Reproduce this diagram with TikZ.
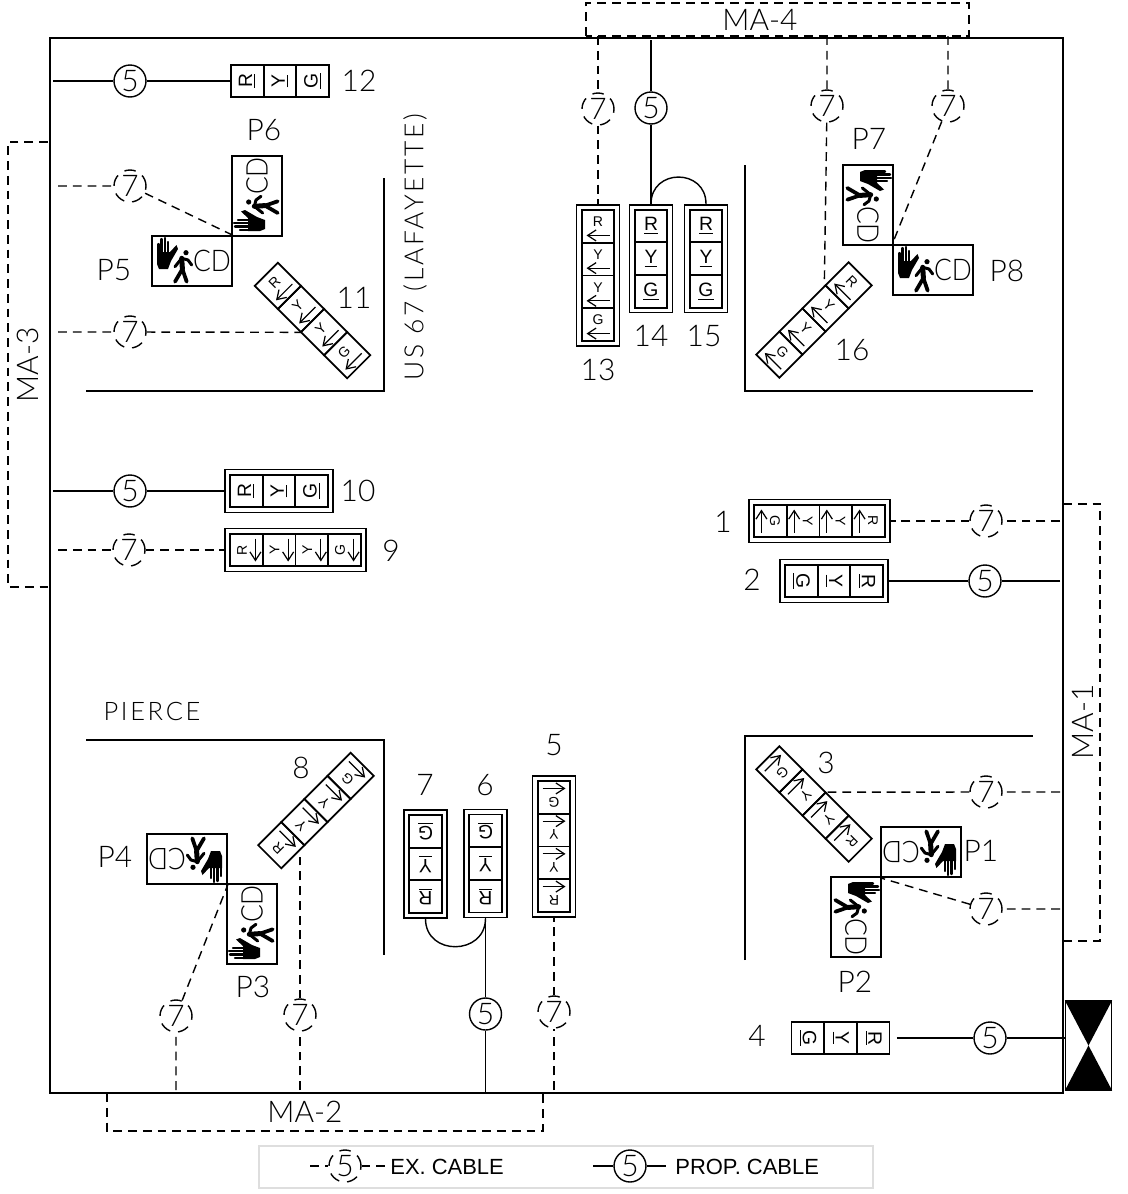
\documentclass[tikz,border=0pt]{standalone}
\usepackage{fontspec}
\setmainfont{Lato}[UprightFont = {* Light}]
\newfontfamily\roadfont[LetterSpace=10.5]{Lato}[UprightFont = {* Light}]
\newfontfamily\legendfont{Liberation Sans}
\usetikzlibrary{arrows.meta}
\tikzset{
exline/.style = {dash pattern = on 5pt off 3.4pt, line width = 0.8pt},
exring/.style = {dash pattern = on 6.5pt off 4.5pt, line width = 0.8pt},
propline/.style = {line width = 0.8pt},
excable/.style = {circle, draw, exring, minimum size = 0.64cm, inner sep = 0, font = \fontsize{17}{18}\selectfont},
propcable/.style = {circle, draw, propline, minimum size = 0.64cm, inner sep = 0, font = \fontsize{17}{18}\selectfont},
signlabel/.style = {inner sep = 0, font = \fontsize{17}{18}\selectfont},
headframe/.style = {draw, line width = 0.9pt, inner sep = 0, minimum width = 0.86cm, minimum height = #1},
headbare/.style = {inner sep = 0, minimum width = 0.655cm, minimum height = #1},
headcell/.style = {draw, line width = 1pt, inner sep = 0, minimum size = 0.654cm},
ballletter/.style = {inner sep = 0, font = \fontsize{11}{12}\selectfont\legendfont},
arrowletter/.style = {inner sep = 0, font = \fontsize{8}{9}\selectfont\legendfont},
sigarrow/.style = {line width = 0.7pt, -{Straight Barb[length = 0.17cm, width = 0.22cm]}},
pedbox/.style = {draw, line width = 0.9pt, inner sep = 0, minimum width = 1.6cm, minimum height = 1cm}
}
\newcommand{\ballsig}[4]{
\node [#4, rotate = #3] (#1) at (#2) {};
\begin{scope}[shift = {(#2)}, rotate = #3, every node/.append style = {transform shape}]
\foreach \t [count = \i] in {R,Y,G} {
\node [headcell] (#1-\i) at (0, {(2-\i)*32.7}) {};
\node [ballletter] (#1-\i-t) at (0, {(2-\i)*32.7}) {\underline{\t}};
}
\end{scope}
}
\newcommand{\arrowsig}[4]{
\node [#4, rotate = #3] (#1) at (#2) {};
\begin{scope}[shift = {(#2)}, rotate = #3, every node/.append style = {transform shape}]
\foreach \t [count = \i] in {R,Y,Y,G} {
\node [headcell] (#1-\i) at (0, {(2.5-\i)*32.7}) {};
\node [arrowletter] (#1-\i-t) at (0, {(2.5-\i)*32.7+4.5}) {\t};
\draw [sigarrow] (11.5, {(2.5-\i)*32.7-9}) -- (-11.5, {(2.5-\i)*32.7-9});
}
\end{scope}
}
\newcommand{\pedsig}[3]{
\node [pedbox, rotate = #3] (#1) at (#2) {};
\begin{scope}[shift = {(#2)}, rotate = #3, every node/.append style = {transform shape}]
\fill (-35,9) -- (-35,-3) -- (-33,-8) -- (-24,-8) -- (-21,0) -- (-14,12) -- (-15.5,16) -- (-22,9) -- (-22.5,9) -- cycle;
\foreach \x/\y in {-33.7/17,-30.4/22,-27.1/23,-23.8/19}
\draw [line width = 0.048cm, line cap = round] (\x,8) -- (\x,\y);
\fill (-6,8.3) circle (2.6);
\draw [line width = 0.06cm, line cap = round, line join = round] (-17,-5.7) -- (-10.3,2.7) -- (-4,1) -- (-0.3,-4);
\draw [line width = 0.1cm, line cap = round, line join = round] (-9.6,-8) -- (-10.3,2.7);
\draw [line width = 0.075cm, line cap = round, line join = round] (-17,-20.7) -- (-9.6,-8) -- (-5.3,-20.7);
\node [inner sep = 0, xscale = 0.88, font = \fontsize{17}{18}\selectfont] (#1-cd) at (20,0) {CD};
\end{scope}
}
\begin{document}
\begin{tikzpicture}[x = 0.02cm, y = 0.02cm]
\useasboundingbox (0,0) rectangle (1128,-1194);
\draw [line width = 1.1pt] (50,-38) rectangle (1063,-1093);
\draw [line width = 0.9pt] (384,-178) -- (384,-391) -- (86,-391);
\draw [line width = 0.9pt] (745,-165) -- (745,-391) -- (1033,-391);
\draw [line width = 0.9pt] (86,-740) -- (384,-740) -- (384,-955);
\draw [line width = 0.9pt] (745,-960) -- (745,-736) -- (1033,-736);
\draw [exline] (586,-36) -- (586,-3) -- (969,-3) -- (969,-36) -- cycle;
\draw [exline] (1063,-504) -- (1100,-504) -- (1100,-941) -- (1063,-941);
\draw [exline] (48,-142) -- (8,-142) -- (8,-587) -- (48,-587);
\draw [exline] (107,-1093) -- (107,-1131) -- (543,-1131) -- (543,-1093);
\ballsig{h2}{834,-581}{-90}{headframe = 2.16cm}
\ballsig{h4}{840.5,-1038}{-90}{headbare = 1.96cm}
\ballsig{h6}{485.5,-863.5}{180}{headframe = 2.16cm}
\ballsig{h7}{425.5,-864}{180}{headframe = 2.16cm}
\ballsig{h10}{279,-491}{90}{headframe = 2.16cm}
\ballsig{h12}{280,-81}{90}{headbare = 1.96cm}
\ballsig{h14}{651,-258.7}{0}{headframe = 2.16cm}
\ballsig{h15}{706,-258.7}{0}{headframe = 2.16cm}
\arrowsig{h1}{819.5,-521}{-90}{headframe = 2.82cm}
\arrowsig{h3}{814,-804}{-135}{headbare = 2.62cm}
\arrowsig{h5}{554,-846.5}{180}{headframe = 2.82cm}
\arrowsig{h8}{316,-810.5}{135}{headbare = 2.62cm}
\arrowsig{h9}{295.5,-550}{90}{headframe = 2.82cm}
\arrowsig{h11}{312.5,-320.5}{45}{headbare = 2.62cm}
\arrowsig{h13}{598,-275.5}{0}{headframe = 2.82cm}
\arrowsig{h16}{814,-320}{-45}{headbare = 2.62cm}
\pedsig{p1}{921,-852}{180}
\pedsig{p2}{856,-917}{-90}
\pedsig{p3}{252,-924}{90}
\pedsig{p4}{187,-859}{180}
\pedsig{p5}{192,-261}{0}
\pedsig{p6}{257,-196}{90}
\pedsig{p7}{868,-205}{-90}
\pedsig{p8}{933,-270}{0}
\node [draw, line width = 0.8pt, minimum width = 0.92cm, minimum height = 1.78cm] (cab) at (1088.5,-1045.5) {};
\fill (cab.north west) -- (cab.north east) -- (cab.south west) -- (cab.south east) -- cycle;
\foreach \name/\x/\y in {e1/986/521,e3/986/792,ep1/986/909,e5/554/1012,e8/300/1015,ep4/176/1016,e9/129/550,ep5/130/186,e11/130/332,e13/598/109,e16/827/106,ep8/948/106}
\node [excable] (\name) at (\x,-\y) {7};
\foreach \name/\x/\y in {c2/985/581,c4/990/1038,c6/485.5/1014,c10/130/491,c12/130/81,c14/651/108}
\node [propcable] (\name) at (\x,-\y) {5};
\foreach \name/\x/\y in {f1/1060/521,f3/1060/792,fp1/1060/909,f5/554/1090,f8/300/1090,fp4/176/1090,f9/58/550,fp5/58/186,f11/58/332,f13/598/36,f16/827/36,fp8/948/36,t8/300/851}
\coordinate (\name) at (\x,-\y);
\foreach \name/\x/\y in {g2/1060/581,g6/485.5/1093,g10/53/491,g12/53/81,g14/651/40}
\coordinate (\name) at (\x,-\y);
\foreach \a/\b/\c in {f1/e1/h1.north,f3/e3/h3.west,fp1/ep1/p1.north east,f5/e5/h5.north,f8/e8/t8,fp4/ep4/p4.north west,f9/e9/h9.north,fp5/ep5/p5.north east,f11/e11/h11.west,f13/e13/h13.north,f16/e16/h16-1.south west,fp8/ep8/p8.north west}
\draw [exline] (\a) -- (\b) -- (\c);
\foreach \a/\b/\c in {g2/c2/h2.north,g6/c6/h6.north,g10/c10/h10.north,g12/c12/h12.north,g14/c14/h14.north}
\draw [propline] (\a) -- (\b) -- (\c);
\draw [propline] ([xshift = 0.14cm]h4.north) -- (c4) -- (c4 -| cab.west);
\draw [propline] (h14.north) to [out = 90, in = 90, looseness = 1.67] (h15.north);
\draw [propline] (h7.north) to [out = -90, in = -90, looseness = 1.6] (h6.north);
\foreach \name/\x/\y/\t in {l1/723/522/1,l2/752/580/2,l3/826/763/3,l4/757/1036/4,l5/554/745/5,l6/485/785/6,l7/425/785/7,l8/301/768/8,l9/391/551/9,l10/358/491/10,l11/354/298/11,l12/359/81/12,l13/598/370/13,l14/651/336/14,l15/704/336/15,l16/852/350/16,lp1/981/851/P1,lp2/855/982/P2,lp3/253/987/P3,lp4/115/857/P4,lp5/114/270/P5,lp6/264/130/P6,lp7/869/139/P7,lp8/1007/271/P8,ma4/760/20/MA-4,ma2/305/1112/MA-2}
\node [signlabel] (\name) at (\x,-\y) {\t};
\node [signlabel, rotate = 90] (ma1) at (1083,-722) {MA-1};
\node [signlabel, rotate = 90] (ma3) at (28,-365) {MA-3};
\node [inner sep = 0, font = \fontsize{14.5}{16}\selectfont\roadfont] (pierce) at (152,-711) {PIERCE};
\node [inner sep = 0, rotate = 90, font = \fontsize{15}{16}\selectfont\roadfont] (road) at (415,-247) {US 67 (LAFAYETTE)};
\draw [draw = black!13, line width = 1.1pt] (259,-1146) rectangle (873,-1188);
\node [excable] (ex5) at (345,-1166) {5};
\node [propcable] (prop5) at (630,-1166) {5};
\coordinate (exa) at (310,-1166);
\coordinate (exb) at (386,-1166);
\coordinate (propa) at (593,-1166);
\coordinate (propb) at (666,-1166);
\draw [exline] (exa) -- (ex5) -- (exb);
\draw [propline] (propa) -- (prop5) -- (propb);
\node [inner sep = 0, anchor = west, font = \fontsize{12.5}{14}\selectfont\legendfont] (extext) at (390,-1167) {EX. CABLE};
\node [inner sep = 0, anchor = west, font = \fontsize{12.5}{14}\selectfont\legendfont] (proptext) at (675,-1167) {PROP. CABLE};
\end{tikzpicture}
\end{document}
